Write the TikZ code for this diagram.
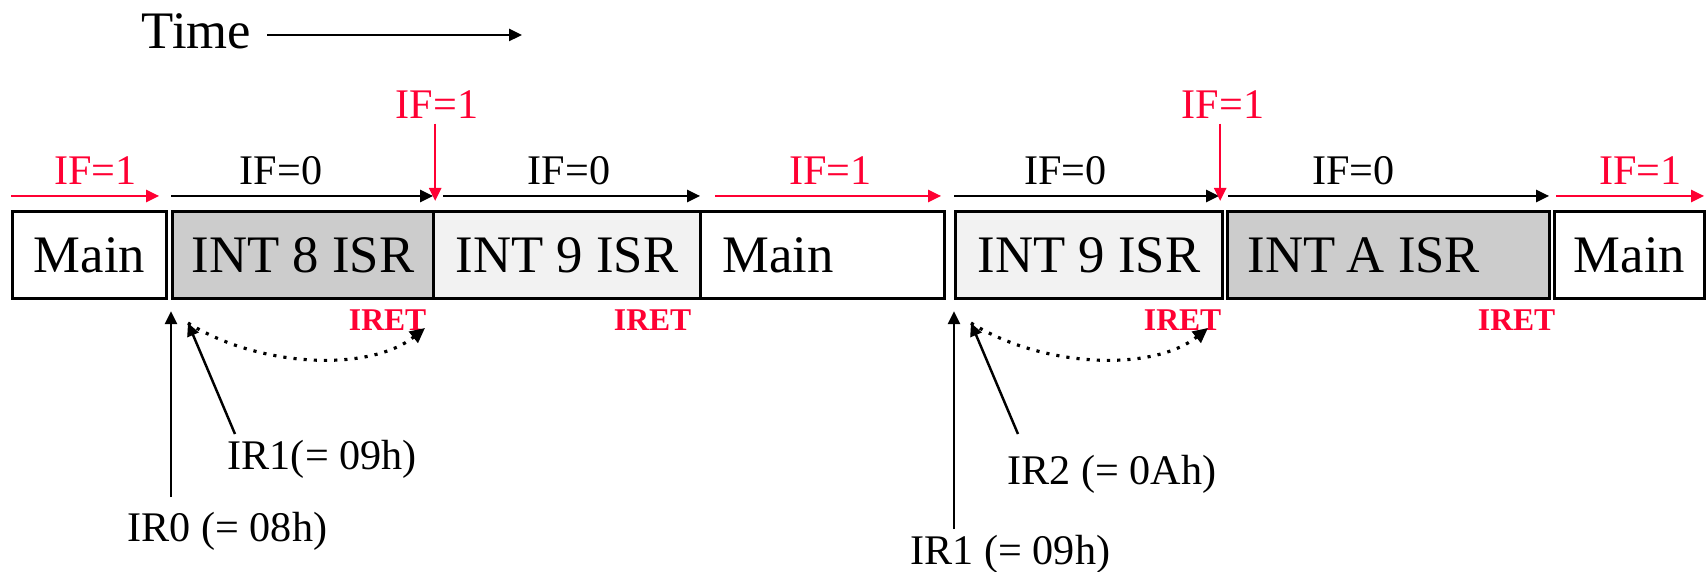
\documentclass[tikz,border=0pt]{standalone}
\usepackage{fontspec}
\setmainfont{Liberation Serif}
\usetikzlibrary{arrows.meta}
\definecolor{ifred}{HTML}{FF0033}
\definecolor{isrgray}{HTML}{CCCCCC}
\definecolor{isrlight}{HTML}{F2F2F2}

\begin{document}
\begin{tikzpicture}[x=0.1mm, y=-0.1mm,
    seg/.style={draw, line width=0.9pt, minimum height=8.7mm, inner sep=0pt, anchor=north west, font=\fontsize{15}{18}\selectfont},
    flag/.style={font=\fontsize{12}{14}\selectfont, inner sep=1mm},
    irlab/.style={font=\fontsize{12}{14}\selectfont, anchor=base west, inner sep=0pt},
    iret/.style={font=\fontsize{9}{11}\selectfont\bfseries, text=ifred, anchor=base east, inner sep=0pt},
    arr/.style={-{Triangle[length=1.3mm, width=1.2mm]}, line width=0.7pt},
    redarr/.style={arr, ifred},
    nest/.style={dotted, line width=0.9pt, -{Triangle[length=1.5mm, width=1.4mm]}}]
        \useasboundingbox (0,0) rectangle (1706,572);

        % Eje de tiempo
        \node[anchor=base west, inner sep=0pt, font=\fontsize{15}{18}\selectfont] (time) at (141,49) {Time};
        \coordinate (tstart) at (267,35);
        \coordinate (tend) at (522,35);
        \draw[arr] (tstart) -- (tend);

        % Segmentos de ejecucion
        \node[seg, minimum width=15.4mm] (main1) at (11,210) {Main};
        \node[seg, minimum width=26.1mm, fill=isrgray] (int8) at (171,210) {INT 8 ISR};
        \node[seg, minimum width=26.7mm, fill=isrlight] (int9) at (432,210) {INT 9 ISR};
        \node[seg, minimum width=24.4mm, text width=20mm, align=left] (main2) at (699,210) {Main};
        \node[seg, minimum width=26.7mm, fill=isrlight] (int9b) at (954,210) {INT 9 ISR};
        \node[seg, minimum width=32.2mm, text width=28.2mm, align=left, fill=isrgray] (intA) at (1226,210) {INT\kern-0.12em\ A\kern-0.08em\ ISR};
        \node[seg, minimum width=15.0mm] (main3) at (1553,210) {Main};

        % Flag IF encima de cada segmento
        \draw[redarr] ([shift={(0,-14)}]main1.north west) -- ([shift={(-9,-14)}]main1.north east)
            node[pos=0.57, above, flag, text=ifred] {IF=1};
        \draw[arr] ([shift={(0,-14)}]int8.north west) -- ([shift={(-2,-14)}]int8.north east)
            node[pos=0.42, above, flag] {IF=0};
        \draw[arr] ([shift={(11,-14)}]int9.north west) -- ([shift={(-2,-14)}]int9.north east)
            node[pos=0.49, above, flag] {IF=0};
        \draw[redarr] ([shift={(16,-14)}]main2.north west) -- ([shift={(-5,-14)}]main2.north east)
            node[pos=0.51, above, flag, text=ifred] {IF=1};
        \draw[arr] ([shift={(0,-14)}]int9b.north west) -- ([shift={(-5,-14)}]int9b.north east)
            node[pos=0.42, above, flag] {IF=0};
        \draw[arr] ([shift={(2,-14)}]intA.north west) -- ([shift={(-2,-14)}]intA.north east)
            node[pos=0.39, above, flag] {IF=0};
        \draw[redarr] ([shift={(3,-14)}]main3.north west) -- ([shift={(-2,-14)}]main3.north east)
            node[pos=0.57, above, flag, text=ifred] {IF=1};

        % IF=1 al final de cada ISR anidada
        \node[flag, text=ifred] (ifup1) at (437,105) {IF=1};
        \draw[redarr] ([yshift=0.6mm]ifup1.south -| int8.north east) -- ([yshift=0.9mm]int8.north east);
        \node[flag, text=ifred] (ifup2) at (1223,105) {IF=1};
        \draw[redarr] ([shift={(-4,0)},yshift=0.6mm]ifup2.south -| int9b.north east) -- ([shift={(-4,0)},yshift=0.9mm]int9b.north east);

        % IRET
        \node[iret] (iret1) at (427,331) {IRET};
        \node[iret] (iret2) at (692,331) {IRET};
        \node[iret] (iret3) at (1222,331) {IRET};
        \node[iret] (iret4) at (1556,331) {IRET};

        % Peticiones de interrupcion, primer caso
        \coordinate (hit1) at (188,323);
        \coordinate (ret1) at (425,328);
        \node[irlab] (ir0) at (127,542) {IR0 (= 08h)};
        \node[irlab] (ir1) at (227,470) {IR1(= 09h)};
        \draw[arr] ([yshift=1.5mm]ir0.north -| int8.south west) -- ([yshift=-1.1mm]int8.south west);
        \draw[arr] ([shift={(8,-6)}]ir1.north west) -- (hit1);
        \draw[nest] (hit1) .. controls (260,368) and (370,372) .. (ret1);

        % Segundo caso
        \coordinate (hit2) at (971,323);
        \coordinate (ret2) at (1208,328);
        \node[irlab] (ir1b) at (910,565) {IR1 (= 09h)};
        \node[irlab] (ir2) at (1007,485) {IR2 (= 0Ah)};
        \draw[arr] ([yshift=0.6mm]ir1b.north -| int9b.south west) -- ([yshift=-1.1mm]int9b.south west);
        \draw[arr] ([shift={(11,-21)}]ir2.north west) -- (hit2);
        \draw[nest] (hit2) .. controls (1043,368) and (1153,372) .. (ret2);

    \end{tikzpicture}
\end{document}
